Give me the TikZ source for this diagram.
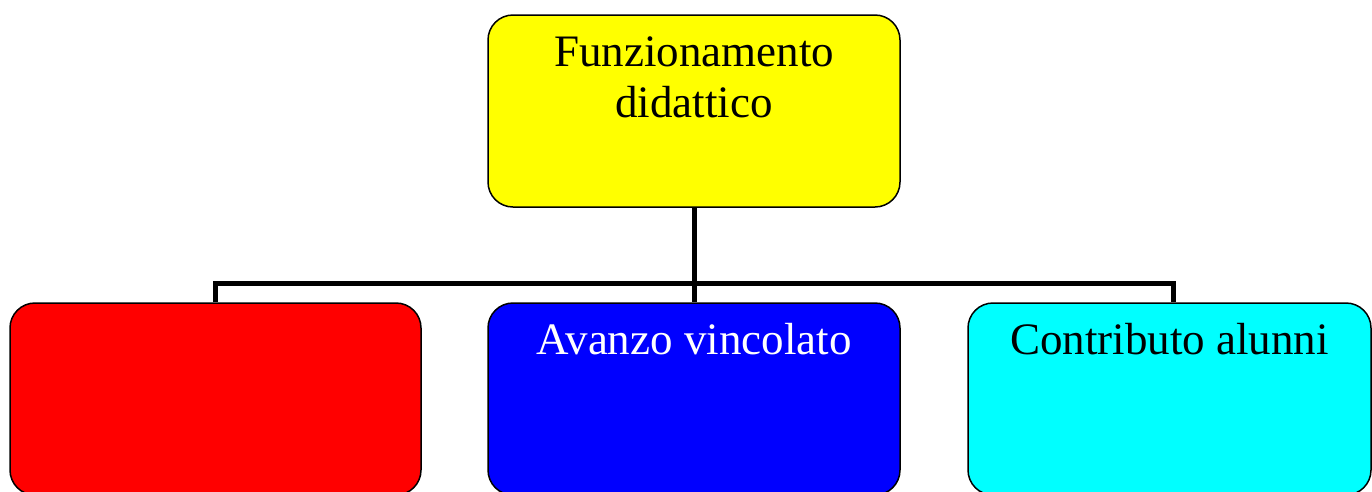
\documentclass[tikz,border=0pt]{standalone}
\usepackage{fontspec}
\setmainfont{Liberation Serif}
\usetikzlibrary{positioning}
\definecolor{boxyellow}{RGB}{255,255,0}
\definecolor{boxred}{RGB}{255,0,0}
\definecolor{boxblue}{RGB}{0,0,255}
\definecolor{boxcyan}{RGB}{0,255,255}

\begin{document}
\begin{tikzpicture}[x=1pt,y=-1pt]
\useasboundingbox (0,0) rectangle (1372,491);
\clip (0,0) rectangle (1372,491);
\begin{scope}[every node/.style={rectangle,rounded corners=25pt,draw=black,line width=1.5pt,
              minimum height=192pt,inner sep=0pt}]
    \node[fill=boxyellow,minimum width=412pt] (fd) at (694,111) {};
    \node[fill=boxred,minimum width=411pt] (rd) at (215.5,399) {};
    \node[fill=boxblue,minimum width=412pt] (av) at (694,399) {};
    \node[fill=boxcyan,minimum width=403pt] (ca) at (1169.5,399) {};
\end{scope}
\begin{scope}[every node/.style={anchor=north,inner sep=0pt,align=center,
              font=\fontsize{45}{51}\selectfont}]
    \node[below=22pt of fd.north] (tfd) {Funzionamento\\didattico};
    \node[below=21pt of av.north,text=white] (tav) {Avanzo vincolato};
    \node[below=21pt of ca.north] (tca) {Contributo alunni};
\end{scope}
\coordinate (bar) at (694,283);
\coordinate (barr) at (1173,283);
\begin{scope}[every path/.style={draw=black,line width=5pt}]
    \path (fd.south) -- (bar);
    \path (bar) -- (av.north);
    \path (rd.north) |- (bar) -- (barr) -- (barr |- ca.north);
\end{scope}
\end{tikzpicture}
\end{document}
